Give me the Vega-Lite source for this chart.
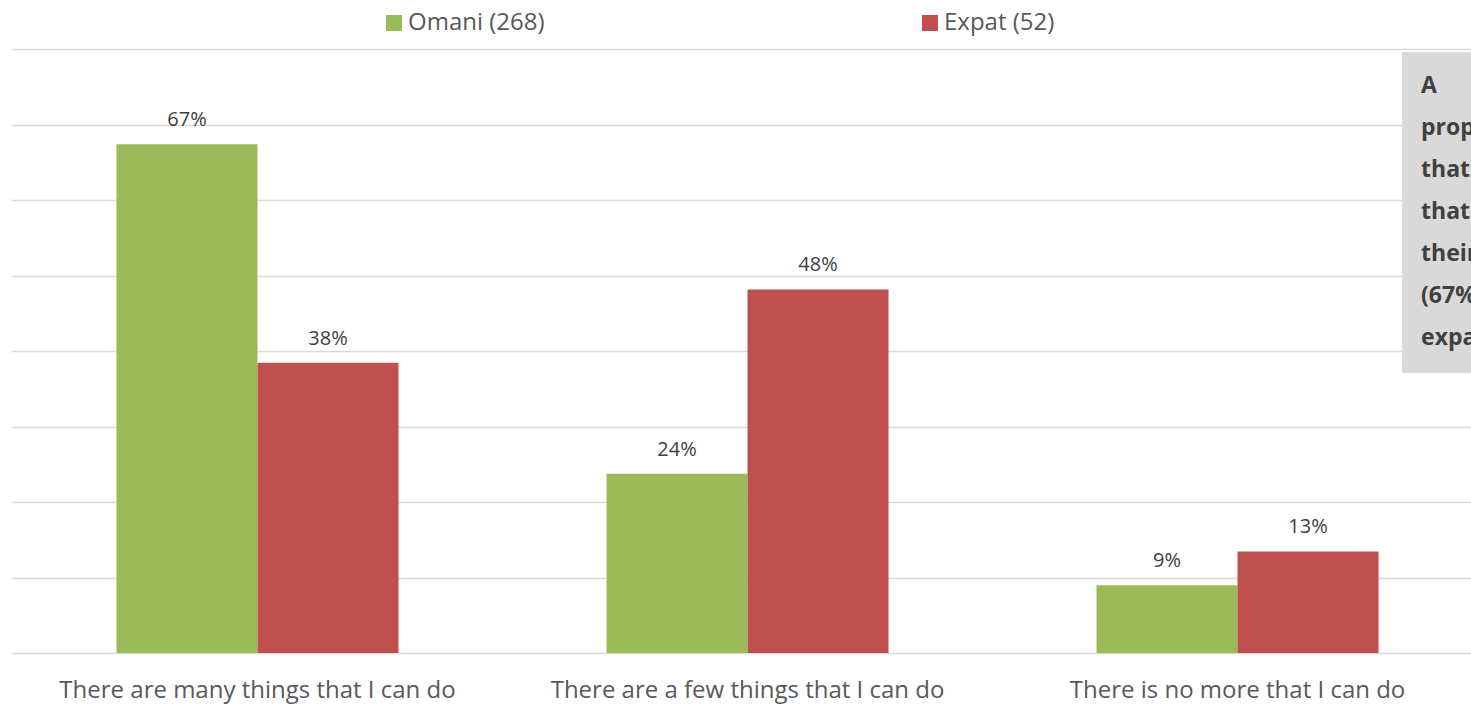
{
  "$schema": "https://vega.github.io/schema/vega-lite/v6.json",
  "width": 1460,
  "height": 604,
  "autosize": {"type": "none"},
  "padding": {"left": 11, "top": 49, "right": 0, "bottom": 51},
  "background": "white",
  "config": {"view": {"stroke": null}, "font": "Open Sans"},
  "datasets": {
    "bars": [
      {"category": "There are many things that I can do", "group": "Omani (268)", "value": 0.674},
      {"category": "There are many things that I can do", "group": "Expat (52)", "value": 0.3846},
      {"category": "There are a few things that I can do", "group": "Omani (268)", "value": 0.2375},
      {"category": "There are a few things that I can do", "group": "Expat (52)", "value": 0.4815},
      {"category": "There is no more that I can do", "group": "Omani (268)", "value": 0.0896},
      {"category": "There is no more that I can do", "group": "Expat (52)", "value": 0.1346}
    ],
    "notebox": [
      {"x": 0.9528, "x2": 1.0, "top": 0.796, "bottom": 0.371}
    ],
    "notelines": [
      {"line": "A", "pos": 0.7417},
      {"line": "proportion of Omanis feel", "pos": 0.6861},
      {"line": "that there are many things", "pos": 0.6305},
      {"line": "that they can do to improve", "pos": 0.5748},
      {"line": "their situation", "pos": 0.5192},
      {"line": "(67%) compared to", "pos": 0.4636},
      {"line": "expats (38%)", "pos": 0.4079}
    ]
  },
  "layer": [
    {
      "data": {"name": "bars"},
      "encoding": {
        "x": {
          "field": "category",
          "type": "nominal",
          "sort": ["There are many things that I can do", "There are a few things that I can do", "There is no more that I can do"],
          "scale": {"paddingInner": 0.4245, "paddingOuter": 0.202, "align": 0.533},
          "axis": {"title": null, "labelFontSize": 24, "labelColor": "#595959", "labelFont": "Open Sans", "ticks": false, "domain": false, "labelAngle": 0, "labelPadding": 25, "labelLimit": 0, "grid": false}
        },
        "xOffset": {"field": "group", "type": "nominal", "sort": ["Omani (268)", "Expat (52)"]},
        "y": {
          "field": "value",
          "type": "quantitative",
          "scale": {"domain": [0, 0.8], "nice": false},
          "axis": {"title": null, "labels": false, "ticks": false, "domain": false, "values": [0, 0.1, 0.2, 0.3, 0.4, 0.5, 0.6, 0.7, 0.8], "gridColor": "#d9d9d9", "gridWidth": 1.5}
        }
      },
      "layer": [
        {
          "mark": {"type": "bar"},
          "encoding": {
            "color": {
              "field": "group",
              "type": "nominal",
              "sort": ["Omani (268)", "Expat (52)"],
              "scale": {"domain": ["Omani (268)", "Expat (52)"], "range": ["#9BBB59", "#C0504D"]},
              "legend": {
                "title": null,
                "orient": "none",
                "legendX": 371,
                "legendY": -38,
                "direction": "horizontal",
                "symbolType": "square",
                "symbolSize": 256,
                "symbolStrokeWidth": 0,
                "labelFontSize": 24,
                "labelFont": "Open Sans",
                "labelColor": "#595959",
                "labelOffset": 2,
                "columnPadding": 373,
                "padding": 0,
                "labelLimit": 0
              }
            }
          }
        },
        {
          "mark": {"type": "text", "dy": -18, "baseline": "alphabetic", "fontSize": 20, "color": "#404040", "font": "Open Sans"},
          "encoding": {"text": {"field": "value", "type": "quantitative", "format": ".0%"}}
        }
      ]
    },
    {
      "layer": [
        {
          "data": {"name": "notebox"},
          "mark": {"type": "rect", "color": "#D9D9D9", "clip": true},
          "encoding": {
            "x": {"field": "x", "type": "quantitative", "scale": {"domain": [0, 1], "nice": false, "zero": false}, "axis": null},
            "x2": {"field": "x2"},
            "y": {"field": "top", "type": "quantitative", "scale": {"domain": [0, 0.8], "nice": false}, "axis": null},
            "y2": {"field": "bottom"}
          }
        },
        {
          "data": {"name": "notelines"},
          "mark": {"type": "text", "align": "left", "baseline": "alphabetic", "fontSize": 23, "fontWeight": "bold", "color": "#404040", "font": "Open Sans", "clip": true},
          "encoding": {
            "x": {"datum": 0.9658, "type": "quantitative", "scale": {"domain": [0, 1], "nice": false, "zero": false}, "axis": null},
            "y": {"field": "pos", "type": "quantitative", "scale": {"domain": [0, 0.8], "nice": false}, "axis": null},
            "text": {"field": "line"}
          }
        }
      ]
    }
  ],
  "resolve": {"scale": {"x": "independent", "y": "independent"}, "axis": {"x": "independent", "y": "independent"}}
}
